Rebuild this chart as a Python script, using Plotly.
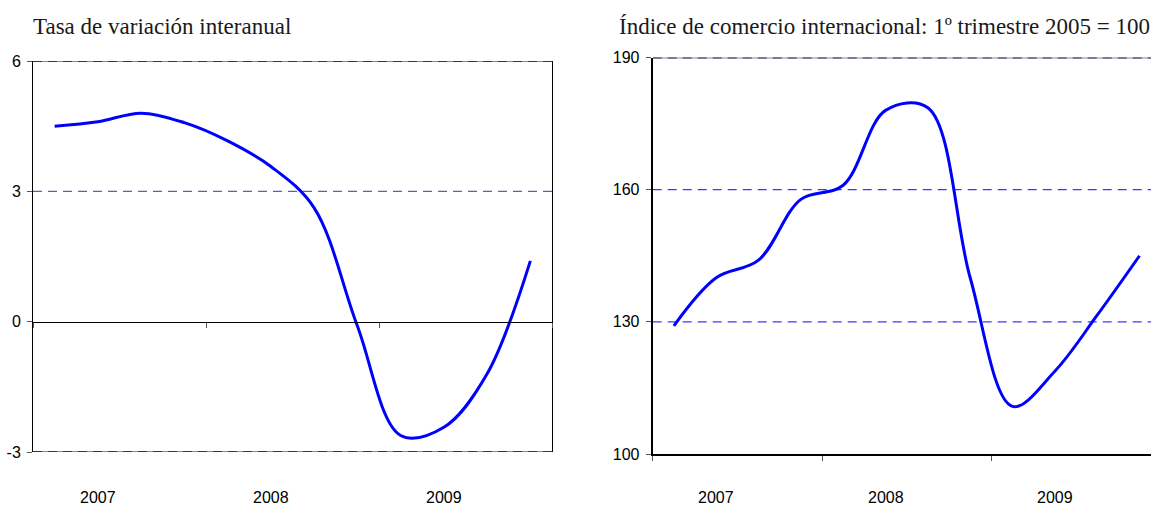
import plotly.graph_objects as go

# Quarterly observations, 2007 Q1 .. 2009 Q4
quarters = ["2007T1", "2007T2", "2007T3", "2007T4",
            "2008T1", "2008T2", "2008T3", "2008T4",
            "2009T1", "2009T2", "2009T3", "2009T4"]
years = ["2007", "2008", "2009"]

tasa_interanual = [4.50, 4.60, 4.80, 4.58, 4.16, 3.57, 2.62, -0.10, -2.62, -2.43, -1.20, 1.40]
indice_comercio = [129.1, 140.0, 144.0, 157.8, 161.0, 178.0, 178.6, 140.0, 110.8, 118.8, 131.5, 145.0]

left_ticks = [-3, 0, 3, 6]
right_ticks = [100, 130, 160, 190]

W, H = 1151, 508
BLUE = "#0000ff"
NAVY = "#2e2e80"
GREY = "#8a8a8a"
DASH = "9px,6px"
TICK_FONT = dict(family="Liberation Sans, Arial, sans-serif", size=16, color="#000")
TITLE_FONT = dict(family="Liberation Serif, Times New Roman, serif", size=23, color="#1a1a1a")

xq = list(range(len(quarters)))


def px_x(p):
    return p / W


def px_y(p):
    return 1 - p / H


def label(v):
    return str(v)  # plain hyphen for negatives


fig = go.Figure()

fig.add_trace(go.Scatter(x=xq, y=tasa_interanual, mode="lines",
                         line=dict(color=BLUE, width=3, shape="spline", smoothing=1),
                         xaxis="x", yaxis="y", showlegend=False, hoverinfo="skip"))
fig.add_trace(go.Scatter(x=xq, y=indice_comercio, mode="lines",
                         line=dict(color=BLUE, width=3, shape="spline", smoothing=1),
                         xaxis="x2", yaxis="y2", showlegend=False, hoverinfo="skip"))

# panel geometry (pixels)
L_x0, L_x1, L_ytop, L_ybot = 33, 552, 61, 452
R_x0, R_ytop, R_ybot = 652.7, 57.5, 454
R_qpx = 42.33
R_xmax = -0.5 + (W - R_x0) / R_qpx

year_bounds = [-0.5, 3.5, 7.5, 11.5]
zero_pos = px_y(L_ybot - (0 - left_ticks[0]) / (left_ticks[-1] - left_ticks[0]) * (L_ybot - L_ytop))

fig.update_layout(
    width=W, height=H,
    margin=dict(l=0, r=0, t=0, b=0, autoexpand=False),
    paper_bgcolor="white", plot_bgcolor="white",
    xaxis=dict(domain=[px_x(L_x0), px_x(L_x1)], range=[-0.5, 11.5],
               anchor="free", position=zero_pos, automargin=False,
               showline=True, linecolor="black", linewidth=1,
               tickmode="array", tickvals=year_bounds, ticks="outside", ticklen=5,
               tickcolor="#555", showticklabels=False, showgrid=False, zeroline=False),
    yaxis=dict(domain=[px_y(L_ybot), px_y(L_ytop)], range=[-3, 6], automargin=False,
               tickmode="array", tickvals=left_ticks, ticktext=[label(v) for v in left_ticks],
               ticks="outside", ticklen=5,
               tickcolor="#555", tickfont=TICK_FONT, ticklabelstandoff=3,
               showline=True, linecolor="black", linewidth=1, mirror=True,
               showgrid=False, zeroline=False),
    xaxis2=dict(domain=[px_x(R_x0), 1], range=[-0.5, R_xmax], automargin=False,
                anchor="y2", showline=True, linecolor="black", linewidth=2,
                tickmode="array", tickvals=year_bounds, ticks="outside", ticklen=5,
                tickcolor="#555", showticklabels=False, showgrid=False, zeroline=False),
    yaxis2=dict(domain=[px_y(R_ybot), px_y(R_ytop)], range=[100, 190], anchor="x2",
                automargin=False,
                tickmode="array", tickvals=right_ticks, ticktext=[label(v) for v in right_ticks],
                ticks="outside", ticklen=5,
                tickcolor="#555", tickfont=TICK_FONT, ticklabelstandoff=3,
                showline=True, linecolor="black", linewidth=2,
                showgrid=False, zeroline=False),
)

# interior dashed reference lines
for lvl in left_ticks[1:-1]:
    if lvl == 0:
        continue  # the x axis itself sits on zero
    fig.add_shape(type="line", xref="x", yref="y", x0=-0.5, x1=11.5, y0=lvl, y1=lvl,
                  line=dict(color="#6060b0", width=1.2, dash=DASH), layer="below")
for lvl in right_ticks[1:-1]:
    fig.add_shape(type="line", xref="x2", yref="y2", x0=-0.5, x1=R_xmax, y0=lvl, y1=lvl,
                  line=dict(color="#3a3aff", width=1.4, dash=DASH), layer="below")

# top / bottom frame lines drawn as grey with navy dashes
for xref, yref, lvl, x1 in [("x", "y", left_ticks[-1], 11.5),
                            ("x", "y", left_ticks[0], 11.5),
                            ("x2", "y2", right_ticks[-1], R_xmax)]:
    fig.add_shape(type="line", xref=xref, yref=yref, x0=-0.5, x1=x1, y0=lvl, y1=lvl,
                  line=dict(color=GREY, width=2), layer="above")
    fig.add_shape(type="line", xref=xref, yref=yref, x0=-0.5, x1=x1, y0=lvl, y1=lvl,
                  line=dict(color=NAVY, width=2, dash=DASH), layer="above")

# year labels under each panel, centred on the second quarter of the year
for i, yr in enumerate(years):
    fig.add_annotation(text=yr, x=4 * i + 1, xref="x", y=px_y(497), yref="paper",
                       showarrow=False, font=TICK_FONT, xanchor="center", yanchor="middle",
                       borderpad=0)
    fig.add_annotation(text=yr, x=4 * i + 1, xref="x2", y=px_y(497), yref="paper",
                       showarrow=False, font=TICK_FONT, xanchor="center", yanchor="middle",
                       borderpad=0)

fig.add_annotation(text="Tasa de variación interanual", x=px_x(31), y=px_y(26),
                   xref="paper", yref="paper", xanchor="left", yanchor="middle",
                   showarrow=False, font=TITLE_FONT)
fig.add_annotation(text="Índice de comercio internacional: 1º trimestre 2005 = 100",
                   x=px_x(617), y=px_y(26), xref="paper", yref="paper",
                   xanchor="left", yanchor="middle", showarrow=False, font=TITLE_FONT)

fig.write_html("out.html")
